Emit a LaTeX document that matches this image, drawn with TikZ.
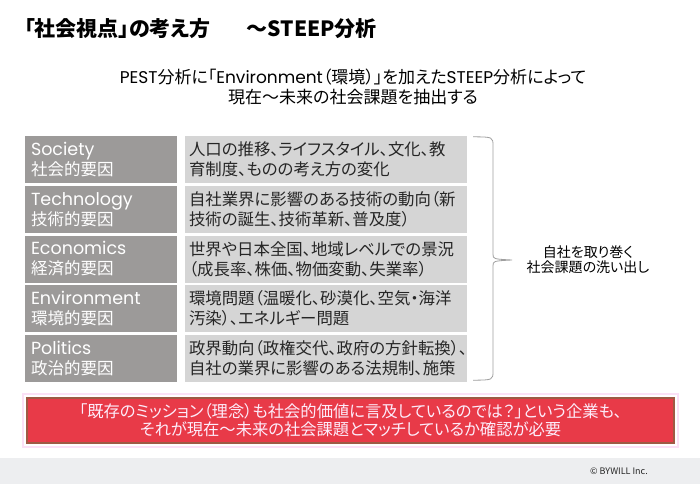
\documentclass[tikz,border=0pt]{standalone}
\usepackage{fontspec}
\setmainfont{Noto Sans CJK JP}[RawFeature=+palt]
\newfontfamily\latfont{Poppins}
\usepackage{tikz}
\usetikzlibrary{positioning,calc}
\definecolor{stgray}{HTML}{9C9A99}
\definecolor{stlight}{HTML}{D5D5D5}
\definecolor{stred}{HTML}{E83A48}
\definecolor{stbrown}{HTML}{9E5A45}
\definecolor{stpink}{HTML}{FBE0F6}
\definecolor{stfoot}{HTML}{EDEEF0}
\definecolor{sttext}{HTML}{262626}
\tikzset{
  keybox/.style  ={fill=stgray, text=white, minimum width=152pt, minimum height=47pt,
                   text width=140pt, inner xsep=6pt, inner ysep=0pt, align=left,
                   font=\fontsize{16.5}{20}\selectfont},
  descbox/.style ={fill=stlight, text=sttext, minimum width=282pt, minimum height=47pt,
                   text width=274pt, inner xsep=4pt, inner ysep=0pt, align=left,
                   font=\fontsize{16.4}{20}\selectfont},
  brace/.style   ={draw=gray!75, line width=0.8pt},
  notebox/.style ={fill=stred, draw=stbrown, line width=2pt, minimum width=647pt,
                   minimum height=45pt, text=stpink!60!white, align=center,
                   font=\fontsize{16.3}{18}\selectfont},
}

\begin{document}
\begin{tikzpicture}[x=1pt,y=-1pt]
  \useasboundingbox (0,0) rectangle (700,484);
  \fill[white] (0,0) rectangle (700,484);
  \fill[stfoot] (0,458) rectangle (700,484);
  % title and lead
  \node[anchor=west, inner sep=0pt, font=\fontsize{21}{24}\selectfont\bfseries] (title)
    at (24,29) {「社会視点」の考え方\hspace{36pt}～STEEP分析};
  \node[align=center, inner sep=0pt, font=\fontsize{17}{20}\selectfont] (lead)
    at (353,87) {{\latfont PEST}分析に「{\latfont Environment}（環境）」を加えた{\latfont STEEP}分析によって\\
                 現在～未来の社会課題を抽出する};
  % STEEP rows
  \foreach \i/\en/\jp/\da/\db in {
      1/Society/社会的要因/人口の推移、ライフスタイル、文化、教/育制度、ものの考え方の変化,
      2/Technology/技術的要因/自社業界に影響のある技術の動向（新/技術の誕生、技術革新、普及度）,
      3/Economics/経済的要因/世界や日本全国、地域レベルでの景況/（成長率、株価、物価変動、失業率）,
      4/Environment/環境的要因/環境問題（温暖化、砂漠化、空気・海洋/汚染）、エネルギー問題,
      5/Politics/政治的要因/政界動向（政権交代、政府の方針転換）、/自社の業界に影響のある法規制、施策}{
    \pgfmathsetmacro{\yy}{159.5+49.75*(\i-1)}
    \node[keybox] (k\i) at (101,\yy) {{\latfont\fontsize{17.5}{20}\selectfont\en}\\\jp};
    \node[descbox] (d\i) at (326,\yy) {\da\\\db};
  }
  % brace
  \coordinate (bt) at ($(d1.north east)+(6,1)$);
  \coordinate (bb) at ($(d5.south east)+(6,-2)$);
  \coordinate (tip) at (512,260);
  \draw[brace] (bt) .. controls (493,137) .. (493,146) -- (493,254)
    .. controls (493,259) .. (tip) .. controls (493,261) .. (493,266)
    -- (493,371) .. controls (493,380) .. (bb);
  \node[align=center, inner sep=0pt, font=\fontsize{14}{15}\selectfont] (issue)
    at (588,260) {自社を取り巻く\\社会課題の洗い出し};
  % note
  \draw[stpink, line width=2pt] (23,394) rectangle (678,447);
  \node[notebox] (note) at (350.5,420.5)
    {「既存のミッション（理念）も社会的価値に言及しているのでは？」という企業も、\\
     それが現在～未来の社会課題とマッチしているか確認が必要};
  \node[anchor=east, inner sep=0pt, font=\fontsize{9}{10}\selectfont, text=sttext] (copy)
    at (648,471) {© BYWILL Inc.};
\end{tikzpicture}
\end{document}
